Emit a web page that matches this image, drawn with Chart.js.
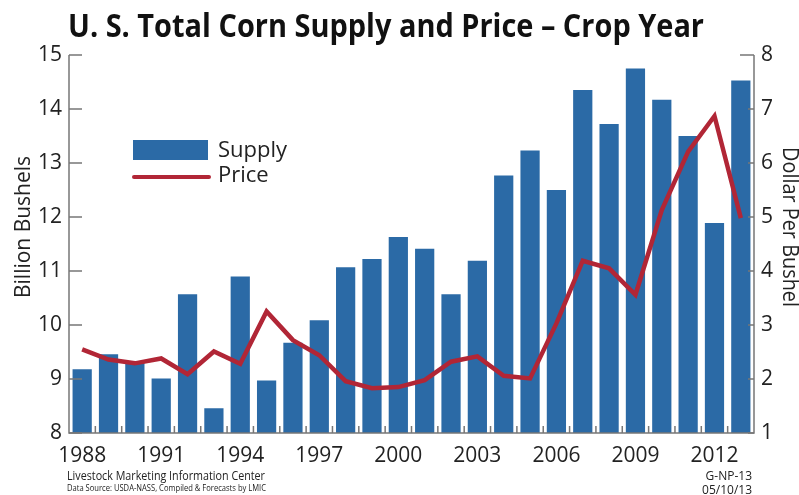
<!DOCTYPE html>
<html>
<head>
<meta charset="utf-8">
<script src="https://cdn.jsdelivr.net/npm/chart.js@4/dist/chart.umd.min.js"></script>
<style>
html,body{margin:0;padding:0;background:#fff;}
#wrap{width:799px;height:495px;position:relative;}
</style>
</head>
<body>
<div id="wrap"><canvas id="c" width="799" height="495"></canvas></div>
<script>
const years = ['1988','1989','1990','1991','1992','1993','1994','1995','1996','1997','1998','1999','2000','2001','2002','2003','2004','2005','2006','2007','2008','2009','2010','2011','2012','2013'];
const supply = [9.18,9.46,9.32,9.01,10.57,8.46,10.90,8.97,9.67,10.09,11.07,11.22,11.63,11.41,10.57,11.19,12.77,13.23,12.50,14.35,13.72,14.75,14.17,13.50,11.89,14.53];
const price = [2.55,2.36,2.29,2.38,2.09,2.51,2.28,3.25,2.72,2.44,1.96,1.83,1.85,1.98,2.32,2.42,2.06,2.01,3.03,4.19,4.05,3.56,5.13,6.21,6.87,4.98];
const xTickLabels = ['1988','1991','1994','1997','2000','2003','2006','2009','2012'];
const leftTicks = [8,9,10,11,12,13,14,15];
const rightTicks = [1,2,3,4,5,6,7,8];

const titleText = 'U. S. Total Corn Supply and Price \u2013 Crop Year';
const leftTitle = 'Billion Bushels';
const rightTitle = 'Dollar Per Bushel';
const footLeft1 = 'Livestock Marketing Information Center';
const footLeft2 = 'Data Source: USDA-NASS, Compiled & Forecasts by LMIC';
const footRight1 = 'G-NP-13';
const footRight2 = '05/10/13';

const BAR = '#2b6aa6';
const LINE = '#b12636';
const AXIS = '#777777';
const TXT = '#222222';
const FONT = "'Open Sans', 'Noto Sans', sans-serif";

const decor = {
  id: 'decor',
  afterDatasetsDraw(chart) {
    const ctx = chart.ctx;
    const a = chart.chartArea;
    const x = chart.scales.x, y = chart.scales.y, y2 = chart.scales.y2;
    ctx.save();
    ctx.strokeStyle = AXIS;
    ctx.lineWidth = 1.5;
    ctx.beginPath();
    ctx.moveTo(a.left, a.top); ctx.lineTo(a.left, a.bottom);
    ctx.lineTo(a.right, a.bottom); ctx.lineTo(a.right, a.top);
    ctx.stroke();
    ctx.beginPath();
    leftTicks.forEach(v => { const py = y.getPixelForValue(v); ctx.moveTo(a.left, py); ctx.lineTo(a.left + 13, py); });
    rightTicks.forEach(v => { const py = y2.getPixelForValue(v); const len = v === 8 ? 14 : 6; ctx.moveTo(a.right, py); ctx.lineTo(a.right - len, py); });
    for (let i = 1; i < years.length; i++) {
      const px = (x.getPixelForValue(i - 1) + x.getPixelForValue(i)) / 2;
      ctx.moveTo(px, a.bottom); ctx.lineTo(px, a.bottom - 7);
    }
    ctx.stroke();
    ctx.restore();
  },
  afterDraw(chart) {
    const ctx = chart.ctx;
    ctx.save();
    ctx.fillStyle = '#111';
    ctx.font = "bold 32px " + FONT;
    ctx.textAlign = 'left';
    ctx.textBaseline = 'alphabetic';
    ctx.fillText(titleText, 68, 37, 636);
    ctx.fillStyle = TXT;
    ctx.font = "21px " + FONT;
    ctx.textAlign = 'center';
    ctx.textBaseline = 'middle';
    ctx.save();
    ctx.translate(24, 227); ctx.rotate(-Math.PI / 2);
    ctx.fillText(leftTitle, 0, 0, 142);
    ctx.restore();
    ctx.save();
    ctx.translate(789, 227); ctx.rotate(Math.PI / 2);
    ctx.fillText(rightTitle, 0, 0, 160);
    ctx.restore();
    const ds = chart.data.datasets;
    ctx.fillStyle = ds[0].backgroundColor;
    ctx.fillRect(133, 140, 75, 20);
    ctx.strokeStyle = ds[1].borderColor;
    ctx.lineWidth = 4;
    ctx.lineCap = 'round';
    ctx.beginPath(); ctx.moveTo(134, 177); ctx.lineTo(209, 177); ctx.stroke();
    ctx.fillStyle = TXT;
    ctx.font = "22px " + FONT;
    ctx.textAlign = 'left';
    ctx.fillText(ds[0].label, 218, 151);
    ctx.fillText(ds[1].label, 218, 176);
    ctx.textBaseline = 'alphabetic';
    ctx.font = "13px " + FONT;
    ctx.fillText(footLeft1, 67, 480, 198);
    ctx.font = "9.5px " + FONT;
    ctx.fillText(footLeft2, 67, 491, 199);
    ctx.textAlign = 'right';
    ctx.font = "12px " + FONT;
    ctx.fillText(footRight1, 752, 480);
    ctx.fillText(footRight2, 752, 494);
    ctx.restore();
  }
};

new Chart(document.getElementById('c'), {
  data: {
    labels: years,
    datasets: [
      { type: 'bar', label: 'Supply', data: supply, yAxisID: 'y', backgroundColor: BAR, borderWidth: 0, barPercentage: 0.73, categoryPercentage: 1, order: 1 },
      { type: 'line', label: 'Price', data: price, yAxisID: 'y2', borderColor: LINE, backgroundColor: LINE, borderWidth: 4.5, pointRadius: 0, tension: 0, order: 0 }
    ]
  },
  options: {
    responsive: false,
    animation: false,
    devicePixelRatio: 1,
    layout: { padding: { top: 55, left: 0, right: 0, bottom: 0 } },
    plugins: { legend: { display: false }, title: { display: false }, tooltip: { enabled: false } },
    scales: {
      x: {
        grid: { display: false, drawTicks: false },
        border: { display: false },
        afterFit: s => { s.height = 62; },
        ticks: {
          autoSkip: false, maxRotation: 0, minRotation: 0, padding: 10,
          color: TXT, font: { family: FONT, size: 21 },
          callback: function (v, i) { const l = years[i]; return xTickLabels.includes(l) ? l : ''; }
        }
      },
      y: {
        position: 'left', min: 8, max: 15,
        grid: { display: false, drawTicks: false },
        border: { display: false },
        afterFit: s => { s.width = 69; },
        ticks: { stepSize: 1, padding: 7, color: TXT, font: { family: FONT, size: 21 } }
      },
      y2: {
        position: 'right', min: 1, max: 8,
        grid: { display: false, drawTicks: false },
        border: { display: false },
        afterFit: s => { s.width = 45; },
        ticks: { stepSize: 1, padding: 7, color: TXT, font: { family: FONT, size: 21 } }
      }
    }
  },
  plugins: [decor]
});
</script>
</body>
</html>
